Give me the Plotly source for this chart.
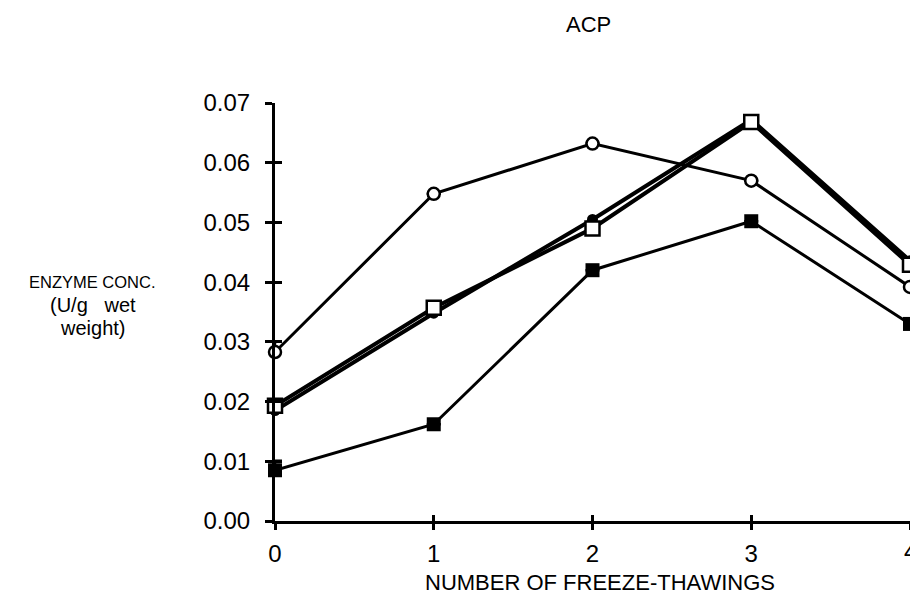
import plotly.graph_objects as go

# Data
freeze_thaw = [0, 1, 2, 3, 4]
x_ticks = [0, 1, 2, 3, 4]
y_ticks = [0.00, 0.01, 0.02, 0.03, 0.04, 0.05, 0.06, 0.07]
y_tick_labels = ["0.00", "0.01", "0.02", "0.03", "0.04", "0.05", "0.06", "0.07"]

open_circle = [0.0283, 0.0548, 0.0632, 0.0570, 0.0392]
open_square = [0.0193, 0.0357, 0.0490, 0.0668, 0.0429]
filled_circle = [0.0185, 0.0348, 0.0505, 0.0672, 0.0436]
filled_square = [0.0085, 0.0162, 0.0420, 0.0502, 0.0330]

circle_err_plus = [0.0017, 0, 0, 0, 0]
fsq_err_plus = [0.0016, 0, 0, 0, 0]

FONT = "Liberation Sans, Arial, Helvetica, sans-serif"

fig = go.Figure()

fig.add_trace(go.Scatter(
    x=freeze_thaw, y=filled_circle, mode="lines+markers",
    line=dict(color="black", width=4),
    marker=dict(symbol="circle", size=11, color="black"),
    cliponaxis=False, showlegend=False))

fig.add_trace(go.Scatter(
    x=freeze_thaw, y=open_square, mode="lines+markers",
    line=dict(color="black", width=4),
    marker=dict(symbol="square", size=14, color="white",
                line=dict(color="black", width=2.5)),
    cliponaxis=False, showlegend=False))

fig.add_trace(go.Scatter(
    x=freeze_thaw, y=open_circle, mode="lines+markers",
    line=dict(color="black", width=3),
    marker=dict(symbol="circle", size=12, color="white",
                line=dict(color="black", width=2.5)),
    error_y=dict(type="data", symmetric=False, array=circle_err_plus,
                 arrayminus=[0]*5, color="black", thickness=2.5, width=7),
    cliponaxis=False, showlegend=False))

fig.add_trace(go.Scatter(
    x=freeze_thaw, y=filled_square, mode="lines+markers",
    line=dict(color="black", width=3),
    marker=dict(symbol="square", size=14, color="black"),
    error_y=dict(type="data", symmetric=False, array=fsq_err_plus,
                 arrayminus=[0]*5, color="black", thickness=2.5, width=7),
    cliponaxis=False, showlegend=False))

# invisible trace holding the overlay axes (inside ticks -> crossing ticks)
fig.add_trace(go.Scatter(x=[0], y=[0], xaxis="x2", yaxis="y2",
                         mode="markers", marker=dict(opacity=0),
                         showlegend=False, hoverinfo="skip"))

fig.update_layout(
    width=910, height=597,
    margin=dict(l=275, r=0, t=103, b=76, autoexpand=False),
    plot_bgcolor="white", paper_bgcolor="white",
    font=dict(family=FONT, color="black"),
    xaxis=dict(range=[0, 4], tickmode="array", tickvals=x_ticks,
               ticktext=[str(v) for v in x_ticks],
               showline=True, linecolor="black", linewidth=3,
               ticks="outside", ticklen=6, tickwidth=2.5, tickcolor="black",
               showgrid=False, zeroline=False, ticklabelstandoff=3,
               tickfont=dict(size=24, family=FONT, color="black")),
    yaxis=dict(range=[0, 0.07], tickmode="array", tickvals=y_ticks,
               ticktext=y_tick_labels,
               showline=True, linecolor="black", linewidth=3,
               ticks="outside", ticklen=7, tickwidth=2.5, tickcolor="black",
               showgrid=False, zeroline=False, ticklabelstandoff=10,
               tickfont=dict(size=24, family=FONT, color="black")),
    xaxis2=dict(range=[0, 4], overlaying="x", anchor="y2",
                tickmode="array", tickvals=x_ticks, showticklabels=False,
                ticks="inside", ticklen=6, tickwidth=2.5, tickcolor="black",
                showline=False, showgrid=False, zeroline=False),
    yaxis2=dict(range=[0, 0.07], overlaying="y", anchor="x2",
                tickmode="array", tickvals=y_ticks, showticklabels=False,
                ticks="inside", ticklen=7, tickwidth=2.5, tickcolor="black",
                showline=False, showgrid=False, zeroline=False),
    annotations=[
        dict(text="ACP", xref="paper", yref="paper", x=0.493, y=1.187,
             xanchor="center", yanchor="middle", showarrow=False,
             font=dict(size=22, family=FONT, color="black")),
        dict(text=str(x_ticks[-1]), xref="x", yref="paper", x=x_ticks[-1],
             y=-0.072, xanchor="center", yanchor="middle", showarrow=False,
             font=dict(size=24, family=FONT, color="black")),
        dict(text="NUMBER OF FREEZE-THAWINGS", xref="paper", yref="paper",
             x=0.512, y=-0.148, xanchor="center", yanchor="middle",
             showarrow=False, font=dict(size=22, family=FONT, color="black")),
        dict(text="ENZYME CONC.", xref="paper", yref="paper",
             x=-0.287, y=(521 - 282) / 418, xanchor="center",
             yanchor="middle", showarrow=False,
             font=dict(size=16.5, family=FONT, color="black")),
        dict(text="(U/g\u00a0\u00a0\u00a0wet", xref="paper", yref="paper",
             x=-0.287, y=(521 - 305) / 418, xanchor="center",
             yanchor="middle", showarrow=False,
             font=dict(size=20, family=FONT, color="black")),
        dict(text="weight)", xref="paper", yref="paper",
             x=-0.287, y=(521 - 328) / 418, xanchor="center",
             yanchor="middle", showarrow=False,
             font=dict(size=20, family=FONT, color="black")),
    ],
)

fig.write_html("out.html")
